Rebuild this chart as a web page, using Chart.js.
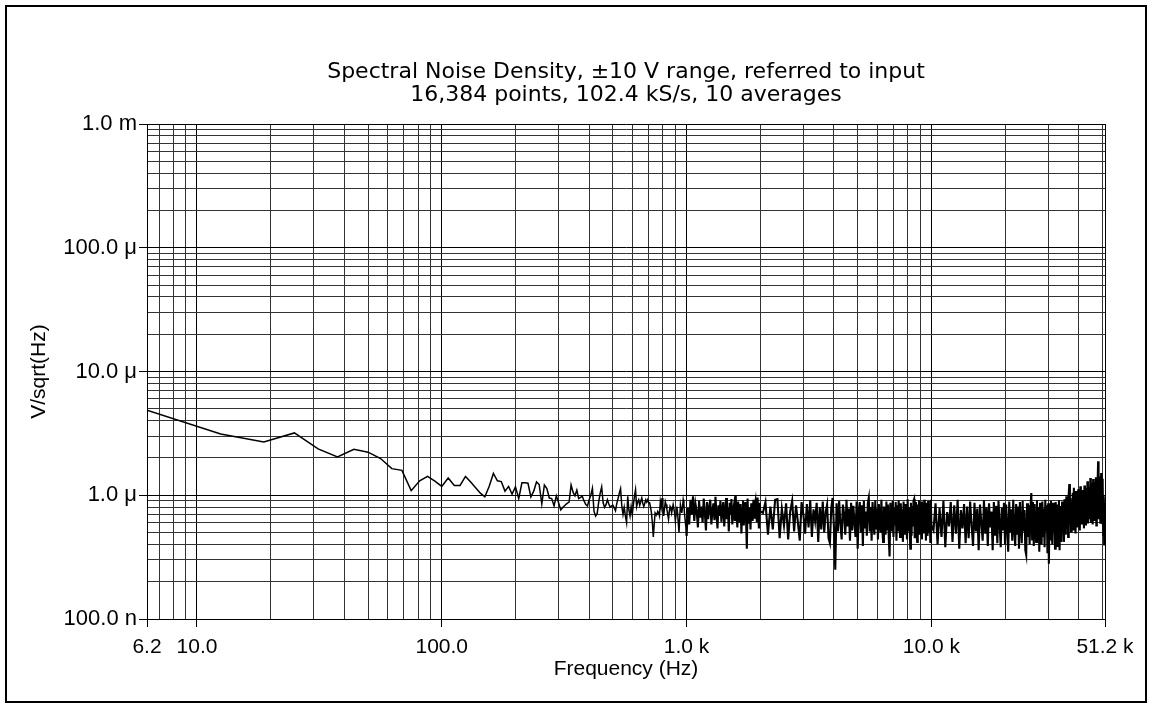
<!DOCTYPE html>
<html>
<head>
<meta charset="utf-8">
<script src="https://cdn.jsdelivr.net/npm/chart.js@4.4.1/dist/chart.umd.min.js"></script>
<style>
  html, body { margin: 0; padding: 0; background: #fff; }
  #wrap { position: relative; width: 1152px; height: 708px; }
  #frame { position: absolute; left: 5px; top: 5px; width: 1138px; height: 694px;
           border: 2px solid #000; pointer-events: none; }
</style>
</head>
<body>
<div id="wrap">
  <canvas id="noiseChart" width="1152" height="708"></canvas>
  <div id="frame"></div>
</div>
<script>
/* ========= Data ========= */
// values are in hundredths of a µV/sqrt(Hz), i.e. 487 -> 4.87 µV/sqrt(Hz)

// every FFT bin, 6.25 Hz .. 1000 Hz (bin spacing 6.25 Hz)
const binHz = 6.25;
const lowBins = [
  487, 313, 270, 319, 237, 204, 235, 223, 198, 164, 159, 109, 131, 142, 130, 118, 138, 120, 120, 142,
  128, 115, 104, 97, 118, 150, 131, 129, 108, 118, 102, 117, 94, 126, 126, 125, 97, 108, 128, 122,
  85, 121, 113, 95, 94, 82, 99, 87, 76, 80, 83, 86, 88, 121, 106, 99, 110, 94, 96, 98,
  90, 84, 82, 92, 100, 114, 74, 68, 71, 88, 104, 117, 87, 80, 84, 92, 85, 80, 82, 83,
  79, 75, 86, 94, 104, 113, 82, 70, 80, 68, 60, 98, 76, 68, 81, 70, 84, 98, 111, 81,
  88, 92, 83, 89, 95, 86, 81, 86, 92, 88, 92, 87, 87, 80, 72, 60, 46, 58, 72, 70,
  70, 74, 72, 68, 89, 80, 95, 82, 68, 78, 89, 84, 77, 70, 64, 74, 81, 78, 72, 78,
  84, 84, 72, 62, 70, 81, 72, 60, 50, 66, 84, 78, 72, 80, 92, 85, 70, 62, 55, 47
];

// 1012.5 Hz .. 2000 Hz, every 2nd bin
const band1k = { start: 1012.5, step: 12.5 };
const band1kVals = [
  79, 58, 92, 70, 98, 62, 85, 74, 55, 90, 66, 81, 60, 94, 72, 52, 88, 64, 79, 92,
  58, 74, 86, 63, 97, 70, 54, 83, 68, 90, 61, 77, 88, 56, 72, 95, 64, 80, 51, 87,
  70, 93, 58, 76, 84, 62, 99, 67, 55, 89, 73, 60, 85, 49, 78, 91, 57, 72, 88, 64,
  37, 94, 59, 80, 70, 53, 86, 75, 62, 92, 66, 83, 90, 71, 61, 96, 68, 54, 87, 74
];

// 2050 Hz .. 10 kHz, one value per 50 Hz
const band2k = { start: 2050, step: 50 };
const band2kVals = [
  72, 88, 48, 81, 53, 92, 93, 45, 78, 57, 86, 44, 74, 90, 51, 83, 60, 43, 88, 70,
  49, 85, 55, 91, 46, 77, 62, 87, 42, 80, 53, 89, 50, 73, 84, 45, 41, 79, 95, 55,
  25, 86, 51, 90, 59, 44, 84, 71, 48, 92, 56, 78, 43, 87, 52, 82, 61, 46, 89, 37,
  76, 88, 50, 83, 39, 90, 54, 74, 47, 86, 95, 51, 80, 43, 88, 59, 48, 91, 53, 78,
  44, 85, 62, 50, 92, 55, 42, 81, 73, 48, 89, 53, 84, 45, 32, 87, 60, 51, 90, 46,
  79, 57, 88, 43, 83, 51, 91, 70, 46, 86, 54, 77, 42, 89, 59, 48, 85, 72, 44, 93,
  52, 80, 61, 37, 87, 47, 82, 56, 90, 93, 45, 76, 88, 50, 42, 84, 62, 91, 48, 79,
  55, 89, 44, 86, 73, 49, 92, 53, 81, 43, 87, 59, 47, 90, 71, 51, 85, 42, 92, 57
];

// 10.2 kHz .. 51.2 kHz, one value per 200 Hz
const band10k = { start: 10200, step: 200 };
const band10kVals = [
  52, 86, 40, 79, 46, 90, 38, 73, 56, 88, 42, 83, 49, 92, 37, 76, 54, 85, 41, 81,
  45, 89, 57, 39, 87, 51, 78, 36, 84, 60, 43, 91, 49, 80, 39, 86, 55, 74, 36, 88,
  47, 82, 41, 90, 59, 38, 79, 52, 87, 40, 84, 56, 35, 89, 50, 77, 43, 92, 54, 39,
  85, 48, 81, 37, 88, 57, 41, 90, 51, 76, 36, 33, 86, 46, 83, 40, 79, 104, 44, 88,
  39, 85, 55, 42, 91, 49, 80, 35, 87, 58, 40, 89, 47, 78, 38, 92, 52, 83, 34, 86,
  28, 81, 44, 90, 56, 40, 87, 50, 79, 37, 88, 59, 39, 84, 46, 91, 36, 82, 54, 42,
  89, 55, 76, 42, 93, 61, 48, 98, 57, 85, 46, 102, 123, 58, 95, 51, 88, 64, 105, 53,
  115, 62, 94, 49, 108, 70, 100, 55, 112, 60, 97, 52, 118, 66, 104, 58, 110, 63, 96, 54,
  120, 68, 106, 57, 114, 61, 130, 59, 117, 70, 109, 64, 138, 60, 125, 72, 112, 58, 135, 66,
  128, 62, 118, 74, 140, 57, 122, 69, 133, 188, 64, 126, 71, 142, 60, 119, 151, 67, 136, 58,
  124, 48, 98, 40, 88, 42
];

// axes
const xMin = 6.25, xMax = 51200;
const xTickValues = [6.25, 10, 100, 1000, 10000, 51200];
const xTickLabels = ["6.2", "10.0", "100.0", "1.0 k", "10.0 k", "51.2 k"];
const yMin = 1e-7, yMax = 1e-3;
const yTickValues = [1e-7, 1e-6, 1e-5, 1e-4, 1e-3];
const yTickLabels = ["100.0 n", "1.0 \u03bc", "10.0 \u03bc", "100.0 \u03bc", "1.0 m"];

const titleLines = [
  "Spectral Noise Density, \u00b110 V range, referred to input",
  "16,384 points, 102.4 kS/s, 10 averages"
];

/* ========= Build points ========= */
const toVolts = (v) => v * 1e-8;
const points = [];
lowBins.forEach((v, i) => points.push({ x: (i + 1) * binHz, y: toVolts(v) }));
[[band1k, band1kVals], [band2k, band2kVals], [band10k, band10kVals]].forEach(([seg, vals]) => {
  vals.forEach((v, i) => points.push({ x: seg.start + i * seg.step, y: toVolts(v) }));
});

/* ========= Grid helpers ========= */
// log grid: 1..9 in every decade, plus the end values
function logGrid(min, max) {
  const out = [min];
  for (let d = Math.pow(10, Math.floor(Math.log10(min))); d < max; d *= 10) {
    for (let k = 1; k <= 9; k++) {
      const v = k * d;
      if (v > min * 1.0001 && v < max * 0.9999) out.push(v);
    }
  }
  out.push(max);
  return out;
}
const near = (a, b) => Math.abs(a - b) <= Math.abs(b) * 1e-6;
const labelIndex = (vals, v) => vals.findIndex((t) => near(v, t));

const FONT = "'Liberation Sans', Arial, sans-serif";
const TITLE_FONT = "'DejaVu Sans', 'Liberation Sans', sans-serif";

// keep the main title centred over the plot area, not the canvas
const centerTitle = {
  id: "centerTitle",
  afterLayout(chart) {
    if (chart.titleBlock) {
      chart.titleBlock.left = chart.chartArea.left;
      chart.titleBlock.right = chart.chartArea.right;
    }
  }
};

const ctx = document.getElementById("noiseChart").getContext("2d");
new Chart(ctx, {
  type: "line",
  data: {
    datasets: [{
      data: points,
      borderColor: "#000",
      borderWidth: 1.5,
      pointRadius: 0,
      tension: 0,
      fill: false,
      // the dense noise band above 1 kHz is drawn a little heavier
      segment: { borderWidth: (c) => (c.p0.parsed.x >= 1000 ? 2.1 : 1.5) }
    }]
  },
  options: {
    responsive: false,
    animation: false,
    normalized: true,
    layout: { padding: { top: 0, right: 47, bottom: 0, left: 0 } },
    plugins: {
      legend: { display: false },
      tooltip: { enabled: false },
      title: {
        display: true,
        text: titleLines,
        color: "#000",
        font: { family: TITLE_FONT, size: 22, weight: "normal", lineHeight: 23 / 22 },
        padding: { top: 60.5, bottom: 17.5 }
      }
    },
    scales: {
      x: {
        type: "logarithmic",
        min: xMin,
        max: xMax,
        afterBuildTicks: (s) => { s.ticks = logGrid(xMin, xMax).map((v) => ({ value: v })); },
        afterFit: (s) => { s.height = 89; },
        ticks: {
          autoSkip: false,
          maxRotation: 0,
          minRotation: 0,
          padding: 8,
          color: "#000",
          font: { family: FONT, size: 21 },
          callback: (v) => {
            const i = labelIndex(xTickValues, v);
            return i >= 0 ? xTickLabels[i] : "";
          }
        },
        grid: {
          lineWidth: 1,
          tickLength: 8,
          color: (c) => (c.tick && labelIndex(xTickValues, c.tick.value) >= 0 ? "#000" : "#333"),
          tickColor: (c) => (c.tick && labelIndex(xTickValues, c.tick.value) >= 0 ? "#000" : "rgba(0,0,0,0)")
        },
        border: { display: true, color: "#000", width: 1 },
        title: {
          display: true,
          text: "Frequency (Hz)",
          color: "#000",
          font: { family: FONT, size: 21 },
          padding: { top: 0, bottom: 26 }
        }
      },
      y: {
        type: "logarithmic",
        min: yMin,
        max: yMax,
        afterBuildTicks: (s) => { s.ticks = logGrid(yMin, yMax).map((v) => ({ value: v })); },
        afterFit: (s) => { s.width = 147; },
        ticks: {
          autoSkip: false,
          padding: 2,
          color: "#000",
          font: { family: FONT, size: 22 },
          callback: (v) => {
            const i = labelIndex(yTickValues, v);
            return i >= 0 ? yTickLabels[i] : "";
          }
        },
        grid: {
          lineWidth: 1,
          tickLength: 8,
          color: (c) => (c.tick && labelIndex(yTickValues, c.tick.value) >= 0 ? "#000" : "#333"),
          tickColor: (c) => (c.tick && labelIndex(yTickValues, c.tick.value) >= 0 ? "#000" : "rgba(0,0,0,0)")
        },
        border: { display: true, color: "#000", width: 1 },
        title: {
          display: true,
          text: "V/sqrt(Hz)",
          color: "#000",
          font: { family: FONT, size: 21 },
          padding: { top: 27, bottom: 0 }
        }
      }
    }
  },
  plugins: [centerTitle]
});
</script>
</body>
</html>
